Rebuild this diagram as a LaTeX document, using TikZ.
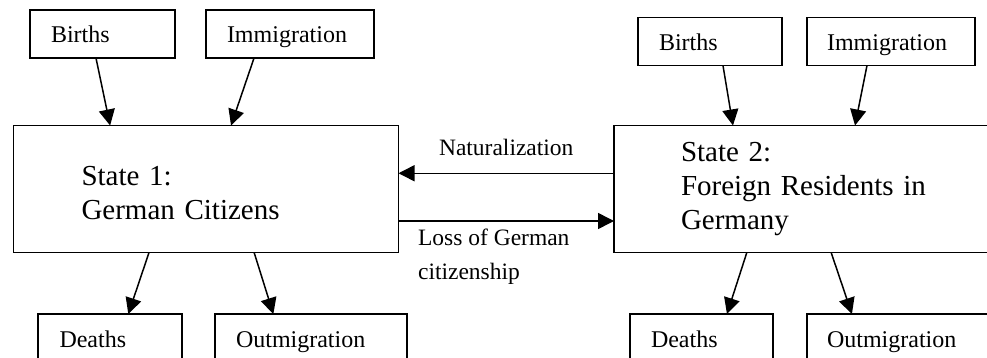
\documentclass[tikz,border=0pt]{standalone}
\usepackage{fontspec}
\setmainfont{Liberation Serif}
\usetikzlibrary{arrows.meta,calc}

\begin{document}
\begin{tikzpicture}[x=1pt,y=-1pt,
  box/.style={draw, line width=1.5pt, rectangle, anchor=north west, outer sep=0pt,
    minimum height=48pt, inner ysep=0pt, align=left, text height=22pt, text depth=4pt,
    font=\fontsize{24}{34}\selectfont},
  statebox/.style={box, minimum height=127pt, text height=, text depth=,
    font=\fontsize{29}{34}\selectfont},
  flow/.style={line width=1.5pt, -{Triangle[length=16pt,width=16pt]}},
  flowlabel/.style={font=\fontsize{23.5}{34}\selectfont, align=left}]
\useasboundingbox (0,0) rectangle (987,358);
\clip (0,0) rectangle (987,358);
% states:
\node[statebox, text width=249pt, inner xsep=68pt, text height=27.5pt] (state1) at (13.5,125.5) {State 1:\\German Citizens};
\node[statebox, text width=251pt, inner xsep=67pt] (state2) at (614,125.5) {State 2:\\Foreign Residents in\\Germany};
% inflows:
\node[box, text width=103pt, inner xsep=21pt] (births1) at (30,10) {Births};
\node[box, text width=126pt, inner xsep=21pt] (immig1) at (206,10) {Immigration};
\node[box, text width=102pt, inner xsep=21pt] (births2) at (638,17.5) {Births};
\node[box, text width=128pt, inner xsep=20pt] (immig2) at (807,17.5) {Immigration};
% outflows:
\node[box, text width=101pt, inner xsep=21.5pt] (deaths1) at (38,314) {Deaths};
\node[box, text width=150pt, inner xsep=21pt] (outmig1) at (215,314) {Outmigration};
\node[box, text width=101pt, inner xsep=21pt] (deaths2) at (630,314) {Deaths};
\node[box, text width=152pt, inner xsep=20pt] (outmig2) at (807,314) {Outmigration};
% arrows into the states:
\draw[flow] ($(births1.south west)!.455!(births1.south east)$) -- ($(state1.north west)!.251!(state1.north east)$);
\draw[flow] ($(immig1.south west)!.286!(immig1.south east)$) -- ($(state1.north west)!.565!(state1.north east)$);
\draw[flow] ($(births2.south west)!.59!(births2.south east)$) -- ($(state2.north west)!.309!(state2.north east)$);
\draw[flow] ($(immig2.south west)!.357!(immig2.south east)$) -- ($(state2.north west)!.626!(state2.north east)$);
% arrows out of the states:
\draw[flow] ($(state1.south west)!.352!(state1.south east)$) -- ($(deaths1.north west)!.627!(deaths1.north east)$);
\draw[flow] ($(state1.south west)!.625!(state1.south east)$) -- ($(outmig1.north west)!.304!(outmig1.north east)$);
\draw[flow] ($(state2.south west)!.345!(state2.south east)$) -- ($(deaths2.north west)!.678!(deaths2.north east)$);
\draw[flow] ($(state2.south west)!.564!(state2.south east)$) -- ($(outmig2.north west)!.234!(outmig2.north east)$);
% transitions between the states:
\draw[flow] ($(state2.north west)!.376!(state2.south west)$) -- node[flowlabel, above=13.3pt] {Naturalization} ($(state1.north east)!.376!(state1.south east)$);
\draw[flow] ($(state1.north east)!.752!(state1.south east)$) -- node[flowlabel, pos=0, anchor=north west, xshift=15.5pt, yshift=-3.7pt] {Loss of German\\citizenship} ($(state2.north west)!.752!(state2.south west)$);
\end{tikzpicture}
\end{document}
